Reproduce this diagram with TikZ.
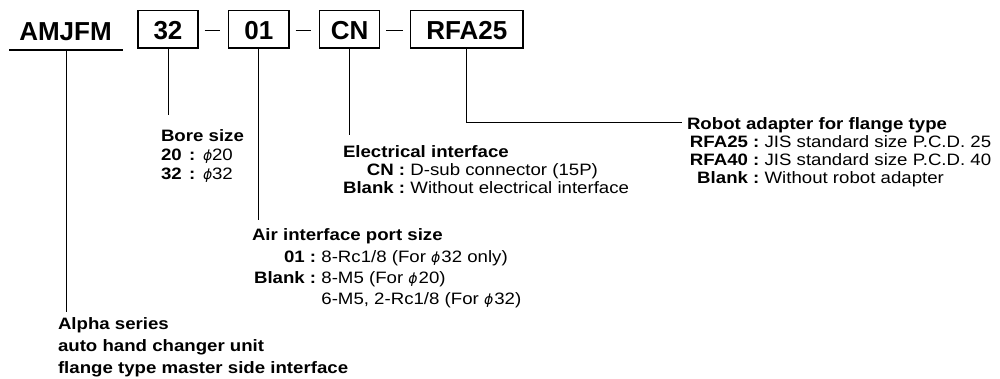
\documentclass[tikz,border=0pt]{standalone}
\usepackage{fontspec}
\setmainfont{Liberation Sans}
\newfontfamily\stretchsans{Liberation Sans}[FakeStretch=1.13]
\newfontfamily\phifont{DejaVu Sans}
\newcommand\phis{{\phifont\itshape\fontsize{14}{14}\selectfont ϕ}}
\tikzset{
  codebox/.style={draw, line width=1.3pt, minimum height=37.3pt, inner sep=0pt,
    text height=20.2pt, text depth=0pt, font=\fontsize{26}{30}\selectfont\bfseries},
  toptext/.style={inner sep=0pt, outer sep=0pt, font=\fontsize{26}{30}\selectfont\bfseries},
  conn/.style={line width=1pt},
  dashline/.style={line width=1.1pt},
  labr/.style={inner sep=0pt, outer sep=0pt, anchor=base west, font=\stretchsans\fontsize{16.5}{19}\selectfont},
  labb/.style={inner sep=0pt, outer sep=0pt, anchor=base west, font=\stretchsans\fontsize{16.5}{19}\selectfont\bfseries},
  labk/.style={labb, anchor=base east}
}
\begin{document}
\begin{tikzpicture}[x=1pt,y=-1pt]
\fill[white] (0,0) rectangle (1000,378);
\useasboundingbox (0,0) rectangle (1000,378);

% top code line
\node[toptext, anchor=base] (amjfm) at (65.5,40) {AMJFM};
\draw[line width=1.5pt] (9,50) coordinate (ulL) -- (123,50) coordinate (ulR);
\coordinate (ulm) at (66,50);

\node[codebox, minimum width=60pt] (b32) at (168,29.4) {32};
\node[codebox, minimum width=60.4pt] (b01) at (258.8,29.4) {01};
\node[codebox, minimum width=60pt] (bcn) at (349.6,29.4) {CN};
\node[codebox, minimum width=112.3pt] (brfa) at (466.85,29.4) {RFA25};

\draw[dashline] ([xshift=6pt,yshift=-0.8pt]b32.east) -- ([xshift=-7.5pt,yshift=-0.8pt]b01.west);
\draw[dashline] ([xshift=6pt,yshift=-0.8pt]b01.east) -- ([xshift=-7.5pt,yshift=-0.8pt]bcn.west);
\draw[dashline] ([xshift=6pt,yshift=-0.8pt]bcn.east) -- ([xshift=-7.5pt,yshift=-0.8pt]brfa.west);

% connectors
\coordinate (alphaTop) at (66,312);
\coordinate (boreTop) at (168,115);
\coordinate (airTop) at (258.8,220);
\coordinate (elecTop) at (349.6,135);
\coordinate (robotEnd) at (681.7,122.5);
\draw[conn] (ulm) -- (alphaTop);
\draw[conn] (b32.south) -- (boreTop);
\draw[conn] (b01.south) -- (airTop);
\draw[conn] (bcn.south) -- (elecTop);
\draw[conn] (brfa.south) |- (robotEnd);

% Bore size
\node[labb] (boreT) at (161,141) {Bore size};
\node[labb] (bore20k) at (161,160) {20};
\node[labb] (bore20c) at (189,160) {:};
\node[labr] (bore20p) at (203,160) {\phis};
\node[labr] (bore20v) at (212,160) {20};
\node[labb] (bore32k) at (161,179) {32};
\node[labb] (bore32c) at (189,179) {:};
\node[labr] (bore32p) at (203,179) {\phis};
\node[labr] (bore32v) at (212,179) {32};

% Electrical interface
\node[labb] (elT) at (343,157) {Electrical interface};
\node[labk] (elK1) at (405.2,175) {CN :};
\node[labr] (elV1) at (410.4,175) {D-sub connector (15P)};
\node[labk] (elK2) at (405.2,193) {Blank :};
\node[labr] (elV2) at (410.4,193) {Without electrical interface};

% Robot adapter
\node[labb] (roT) at (687,129) {Robot adapter for flange type};
\node[labk] (roK1) at (759.4,147.5) {RFA25 :};
\node[labr] (roV1) at (764.6,147.5) {JIS standard size P.C.D. 25};
\node[labk] (roK2) at (759.4,165.5) {RFA40 :};
\node[labr] (roV2) at (764.6,165.5) {JIS standard size P.C.D. 40};
\node[labk] (roK3) at (759.4,183.5) {Blank :};
\node[labr] (roV3) at (764.6,183.5) {Without robot adapter};

% Air interface
\node[labb] (airT) at (252,240) {Air interface port size};
\node[labk] (airK1) at (316.2,262) {01 :};
\node[labr] (airV1) at (321.4,262) {8-Rc1/8 (For \phis\kern1pt32 only)};
\node[labk] (airK2) at (316.2,283.5) {Blank :};
\node[labr] (airV2) at (321.4,283.5) {8-M5 (For \phis\kern1pt20)};
\node[labr] (airV3) at (321.4,304) {6-M5, 2-Rc1/8 (For \phis\kern1pt32)};

% Alpha series
\node[labb] (al1) at (58,329) {Alpha series};
\node[labb] (al2) at (58,351) {auto hand changer unit};
\node[labb] (al3) at (58,373) {flange type master side interface};
\end{tikzpicture}
\end{document}
